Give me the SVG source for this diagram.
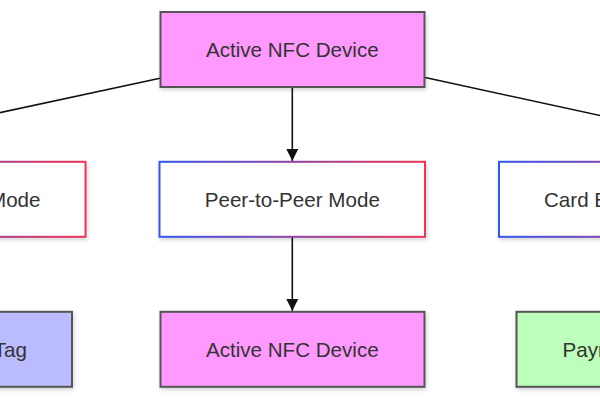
<svg xmlns="http://www.w3.org/2000/svg" width="600" height="400" viewBox="0 0 600 400">
<defs>
<linearGradient id="gb" x1="0" y1="0" x2="1" y2="0">
<stop offset="0" stop-color="#3355ee"/>
<stop offset="1" stop-color="#ee3355"/>
</linearGradient>
<filter id="sh" x="-10%" y="-20%" width="120%" height="150%">
<feDropShadow dx="1" dy="2" stdDeviation="2" flood-color="#000" flood-opacity="0.18"/>
</filter>
<marker id="ah" viewBox="0 0 12 12" refX="12" refY="6" markerWidth="12" markerHeight="12" markerUnits="userSpaceOnUse" orient="auto">
<path d="M0,0 L12,6 L0,12 Z" fill="#111"/>
</marker>
</defs>
<style>
.solid{stroke:#555;stroke-width:2;filter:url(#sh)}
.grad{fill:#fff;stroke:url(#gb);stroke-width:2;filter:url(#sh)}
.t{font-family:"Liberation Sans",Arial,sans-serif;font-size:20.6px;fill:#333}
.c{stroke:#111;stroke-width:1.6;fill:none}
</style>
<g id="connectors">
<line class="c" x1="160" y1="78.3" x2="-230" y2="162"/>
<line class="c" x1="424" y1="77.3" x2="814" y2="162"/>
<line class="c" x1="292.3" y1="87" x2="292.3" y2="161" marker-end="url(#ah)"/>
<line class="c" x1="292.3" y1="237" x2="292.3" y2="311" marker-end="url(#ah)"/>
<line class="c" x1="-47" y1="237" x2="-60" y2="311" marker-end="url(#ah)"/>
<line class="c" x1="632" y1="237" x2="648" y2="311" marker-end="url(#ah)"/>
</g>
<g id="n-active-top">
<rect class="solid" x="160.5" y="12" width="264" height="75" fill="#ff99ff"/>
<text class="t" x="292.3" y="57" text-anchor="middle">Active NFC Device</text>
</g>
<g id="n-reader-writer">
<rect class="grad" x="-180" y="161.8" width="265.5" height="75"/>
<text class="t" x="40.5" y="207" text-anchor="end">Reader/Writer Mode</text>
</g>
<g id="n-p2p">
<rect class="grad" x="159.5" y="161.8" width="265.5" height="75"/>
<text class="t" x="292.3" y="207" text-anchor="middle">Peer-to-Peer Mode</text>
</g>
<g id="n-card-emulation">
<rect class="grad" x="499" y="161.8" width="265.5" height="75"/>
<text class="t" x="544" y="207" text-anchor="start">Card Emulation Mode</text>
</g>
<g id="n-passive-tag">
<rect class="solid" x="-192" y="311.8" width="264" height="75" fill="#bbbbff"/>
<text class="t" x="27" y="357" text-anchor="end">Passive NFC Tag</text>
</g>
<g id="n-active-bottom">
<rect class="solid" x="160.5" y="311.8" width="264" height="75" fill="#ff99ff"/>
<text class="t" x="292.3" y="357" text-anchor="middle">Active NFC Device</text>
</g>
<g id="n-payment">
<rect class="solid" x="516.5" y="311.8" width="264" height="75" fill="#bbffbb"/>
<text class="t" x="562.5" y="357" text-anchor="start">Payment Terminal</text>
</g>
</svg>
